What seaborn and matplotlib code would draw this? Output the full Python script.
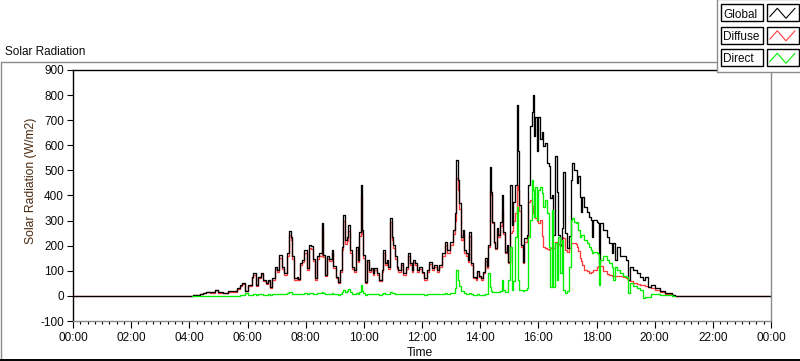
import numpy as np
import pandas as pd
import matplotlib
matplotlib.use("Agg")
import matplotlib.pyplot as plt
import seaborn as sns
from matplotlib.patches import Rectangle
from matplotlib.lines import Line2D
from matplotlib.ticker import MultipleLocator

# ---------------- data (time in hours of day, W/m2) ----------------
hours = [
    0.00, 4.10, 4.14, 4.37, 4.48, 4.56, 4.71, 4.88, 5.00, 5.17,
    5.34, 5.57, 5.63, 5.74, 5.80, 5.91, 6.03, 6.14, 6.20, 6.28,
    6.37, 6.46, 6.54, 6.62, 6.69, 6.77, 6.85, 6.95, 7.00, 7.10,
    7.18, 7.26, 7.35, 7.43, 7.50, 7.54, 7.61, 7.69, 7.75, 7.81,
    7.89, 7.95, 8.03, 8.11, 8.18, 8.24, 8.32, 8.40, 8.47, 8.55,
    8.61, 8.67, 8.75, 8.81, 8.89, 8.95, 9.04, 9.10, 9.18, 9.24,
    9.30, 9.35, 9.41, 9.47, 9.53, 9.61, 9.66, 9.73, 9.79, 9.85,
    9.90, 9.95, 9.98, 10.04, 10.12, 10.18, 10.24, 10.30, 10.36, 10.44,
    10.53, 10.61, 10.67, 10.73, 10.79, 10.84, 10.90, 10.96, 11.02, 11.07,
    11.13, 11.19, 11.27, 11.36, 11.45, 11.53, 11.59, 11.65, 11.70, 11.76,
    11.82, 11.91, 11.99, 12.07, 12.16, 12.25, 12.33, 12.41, 12.51, 12.60,
    12.68, 12.79, 12.87, 12.96, 13.06, 13.12, 13.17, 13.23, 13.28, 13.34,
    13.40, 13.46, 13.51, 13.57, 13.63, 13.69, 13.77, 13.85, 13.90, 13.97,
    14.04, 14.11, 14.17, 14.22, 14.28, 14.34, 14.37, 14.42, 14.48, 14.51,
    14.57, 14.63, 14.68, 14.74, 14.80, 14.86, 14.91, 14.97, 15.03, 15.08,
    15.14, 15.20, 15.26, 15.29, 15.34, 15.41, 15.46, 15.52, 15.60, 15.66,
    15.71, 15.77, 15.81, 15.85, 15.90, 15.96, 16.00, 16.06, 16.12, 16.17,
    16.23, 16.29, 16.35, 16.40, 16.46, 16.52, 16.57, 16.63, 16.69, 16.75,
    16.80, 16.86, 16.92, 16.98, 17.05, 17.13, 17.15, 17.21, 17.29, 17.32,
    17.38, 17.43, 17.47, 17.51, 17.58, 17.66, 17.74, 17.81, 17.86, 17.89,
    18.01, 18.06, 18.10, 18.13, 18.24, 18.35, 18.43, 18.52, 18.58, 18.64,
    18.70, 18.81, 18.92, 19.00, 19.07, 19.15, 19.27, 19.38, 19.50, 19.61,
    19.67, 19.76, 19.88, 20.01, 20.18, 20.36, 20.59, 20.70, 24.00,
]

global_wm2 = [
    0, 0, 5, 8, 10, 16, 14, 24, 14, 10,
    18, 18, 30, 44, 53, 21, 44, 77, 90, 44,
    77, 93, 64, 50, 64, 35, 70, 117, 104, 163,
    117, 90, 170, 260, 236, 157, 70, 77, 67, 130,
    143, 183, 110, 203, 200, 147, 70, 157, 170, 292,
    163, 84, 157, 147, 183, 120, 77, 57, 104, 196,
    323, 223, 236, 283, 183, 117, 104, 196, 143, 256,
    442, 263, 163, 57, 143, 104, 110, 90, 110, 90,
    64, 104, 183, 130, 143, 117, 310, 236, 203, 157,
    117, 104, 130, 90, 117, 170, 130, 104, 143, 130,
    104, 117, 97, 70, 104, 137, 110, 124, 104, 124,
    170, 216, 183, 216, 263, 329, 542, 462, 370, 236,
    263, 183, 170, 143, 256, 130, 77, 70, 100, 80,
    70, 96, 150, 120, 203, 515, 415, 295, 216, 190,
    270, 243, 295, 402, 256, 176, 203, 137, 442, 283,
    376, 442, 761, 576, 362, 203, 137, 230, 243, 442,
    677, 734, 801, 637, 713, 576, 713, 624, 651, 597,
    611, 531, 518, 389, 402, 243, 558, 415, 243, 203,
    270, 495, 250, 190, 240, 462, 529, 502, 502, 449,
    476, 396, 336, 396, 356, 336, 316, 303, 236, 303,
    296, 290, 130, 290, 263, 236, 210, 170, 210, 143,
    196, 157, 157, 143, 64, 117, 104, 90, 77, 64,
    77, 37, 44, 31, 18, 11, 4, 0, 0,
]

diffuse_wm2 = [
    0, 0, 5, 8, 10, 15, 13, 22, 13, 10,
    17, 17, 28, 41, 49, 19, 41, 72, 84, 41,
    72, 86, 60, 47, 60, 33, 65, 109, 97, 152,
    109, 84, 158, 243, 222, 148, 65, 72, 62, 122,
    134, 171, 103, 190, 188, 138, 65, 147, 159, 275,
    153, 78, 147, 138, 172, 112, 72, 53, 97, 183,
    300, 208, 220, 258, 170, 109, 97, 184, 134, 240,
    400, 245, 152, 53, 134, 97, 102, 84, 102, 84,
    60, 97, 172, 122, 134, 109, 295, 222, 190, 147,
    109, 97, 122, 84, 109, 160, 122, 97, 134, 122,
    97, 109, 90, 65, 97, 128, 102, 116, 97, 116,
    160, 204, 172, 204, 248, 300, 470, 420, 345, 222,
    248, 172, 160, 134, 240, 122, 72, 65, 94, 75,
    65, 90, 140, 112, 195, 420, 400, 290, 210, 185,
    260, 235, 280, 340, 245, 170, 195, 130, 250, 260,
    300, 330, 440, 420, 340, 195, 130, 215, 230, 376,
    382, 360, 330, 320, 310, 300, 290, 303, 240, 196,
    190, 185, 183, 190, 200, 190, 215, 210, 205, 200,
    236, 230, 183, 176, 190, 210, 210, 210, 205, 196,
    180, 150, 140, 125, 105, 100, 92, 97, 95, 105,
    115, 120, 124, 118, 100, 88, 85, 80, 80, 80,
    80, 80, 75, 70, 64, 60, 52, 48, 44, 42,
    40, 37, 30, 24, 15, 8, 3, 0, 0,
]

direct_wm2 = [
    0, 0, 0, 0, 0, 0, 0, 0, 0, 0,
    0, 0, 1, 3, 4, 10, 3, 5, 6, 4,
    6, 7, 5, 4, 6, 4, 6, 8, 7, 9,
    8, 7, 10, 17, 14, 9, 6, 7, 6, 8,
    9, 10, 7, 12, 11, 9, 6, 10, 11, 16,
    10, 7, 9, 9, 11, 8, 6, 5, 8, 14,
    22, 16, 18, 26, 14, 8, 7, 12, 9, 15,
    42, 20, 12, 5, 9, 7, 8, 6, 8, 6,
    5, 7, 10, 8, 8, 7, 14, 11, 10, 8,
    7, 6, 8, 6, 7, 9, 8, 6, 8, 8,
    6, 7, 6, 5, 7, 8, 7, 8, 7, 8,
    9, 10, 9, 10, 12, 30, 104, 64, 40, 20,
    18, 10, 9, 8, 12, 7, 5, 5, 6, 5,
    5, 5, 7, 6, 90, 37, 20, 17, 15, 14,
    16, 15, 18, 64, 22, 14, 16, 64, 196, 24,
    60, 236, 356, 64, 24, 22, 20, 24, 30, 236,
    303, 462, 422, 316, 435, 303, 422, 435, 409, 356,
    382, 329, 196, 37, 342, 37, 210, 64, 236, 90,
    223, 24, 10, 20, 117, 303, 310, 296, 290, 296,
    263, 236, 243, 243, 223, 210, 196, 183, 170, 176,
    170, 168, 44, 143, 157, 143, 130, 117, 64, 117,
    104, 90, 80, 77, 11, 50, 40, 30, 24, -8,
    -6, -4, 8, 6, 4, 3, 0, 0, 0,
]

series_names = ["Global", "Diffuse", "Direct"]
series_colors = {"Global": "#000000", "Diffuse": "#ff3c3c", "Direct": "#00ee00"}
direct_start, direct_end = 4.10, 20.70   # green trace only recorded in daylight

y_ticks = list(range(-100, 1000, 100))
y_tick_labels = [str(v) for v in y_ticks]
x_ticks = list(range(0, 25, 2))
x_tick_labels = [f"{h % 24:02d}:00" for h in x_ticks]

title_text = "Solar Radiation"
x_label = "Time"
y_label = "Solar Radiation (W/m2)"

# ---------------- figure ----------------
sns.set_theme(style="white")
plt.rcParams["font.family"] = ["Liberation Sans", "DejaVu Sans"]

W, H = 800, 361
fig = plt.figure(figsize=(W / 100, H / 100), dpi=100)
fig.patch.set_facecolor("white")

L, R, T, B = 73, 771, 70, 321
ax = fig.add_axes([L / W, 1 - B / H, (R - L) / W, (B - T) / H])
ax.set_facecolor("white")

df = pd.DataFrame({"hour": hours, "Global": global_wm2,
                   "Diffuse": diffuse_wm2, "Direct": direct_wm2})
df_direct = df[(df["hour"] >= direct_start) & (df["hour"] <= direct_end)]

lw = 0.95
sns.lineplot(data=df, x="hour", y="Diffuse", color=series_colors["Diffuse"],
             lw=lw, drawstyle="steps-post", estimator=None, ax=ax)
sns.lineplot(data=df, x="hour", y="Global", color=series_colors["Global"],
             lw=lw, drawstyle="steps-post", estimator=None, ax=ax)
sns.lineplot(data=df_direct, x="hour", y="Direct", color=series_colors["Direct"],
             lw=lw, drawstyle="steps-post", estimator=None, ax=ax)

ax.set_xlim(0, 24)
ax.set_ylim(-100, 900)
ax.set_xticks(x_ticks)
ax.set_xticklabels(x_tick_labels)
ax.xaxis.set_minor_locator(MultipleLocator(0.25))
ax.set_yticks(y_ticks)
ax.set_yticklabels(y_tick_labels)
ax.grid(False)

ax.tick_params(axis="both", which="both", direction="out", colors="#000000",
               labelcolor="#0a0a0a", labelsize=8.5, width=0.8)
ax.tick_params(axis="x", which="major", length=5, pad=3, bottom=True)
ax.tick_params(axis="x", which="minor", length=2.5, bottom=True)
ax.tick_params(axis="y", which="major", length=4.5, pad=2, left=True)

for side, col in (("top", "#000000"), ("left", "#000000"),
                  ("bottom", "#8a8a8a"), ("right", "#8a8a8a")):
    ax.spines[side].set_visible(True)
    ax.spines[side].set_color(col)
    ax.spines[side].set_linewidth(1.0)

ax.set_xlabel(x_label, fontsize=8.7, color="#0a0a0a")
ax.xaxis.set_label_coords((420 - L) / (R - L), -(347 - B) / (B - T))
ax.set_ylabel(y_label, fontsize=8.7, color="#4a2a10")
ax.yaxis.set_label_coords((31 - L) / (R - L), (B - 181) / (B - T))
ax.yaxis.label.set_verticalalignment("center")

# ---------------- panel decorations (pixel overlay) ----------------
ov = fig.add_axes([0, 0, 1, 1], zorder=10)
ov.set_xlim(0, W)
ov.set_ylim(H, 0)
ov.axis("off")
ov.patch.set_alpha(0)

frame_gray = "#8c8c8c"
ov.add_line(Line2D([0.5, 717], [61.5, 61.5], color=frame_gray, lw=1.0))
ov.add_line(Line2D([0.5, 0.5], [61.5, 361], color=frame_gray, lw=1.0))
ov.add_line(Line2D([0, W], [360, 360], color="#000000", lw=1.4))

ov.text(5, 55, title_text, fontsize=8.5, color="#0a0a0a", va="baseline", ha="left")

# legend panel
ov.add_patch(Rectangle((717, -1), 84, 73, facecolor="white",
                       edgecolor=frame_gray, lw=1.0))
row_top = [4, 26.5, 49]
for name, top in zip(series_names, row_top):
    ov.add_patch(Rectangle((721, top), 42, 17, facecolor="white",
                           edgecolor="#000000", lw=1.0))
    ov.text(723, top + 13.5, name, fontsize=8.5, color="#0a0a0a",
            va="baseline", ha="left")
    ov.add_patch(Rectangle((767, top), 32, 17, facecolor="white",
                           edgecolor="#000000", lw=1.0))
    ov.add_line(Line2D([769.7, 777.3, 786, 795],
                       [top + 12.7, top + 4.3, top + 14.3, top + 4.3],
                       color=series_colors[name], lw=0.8))

fig.savefig("out.png", dpi=100, facecolor="white")
